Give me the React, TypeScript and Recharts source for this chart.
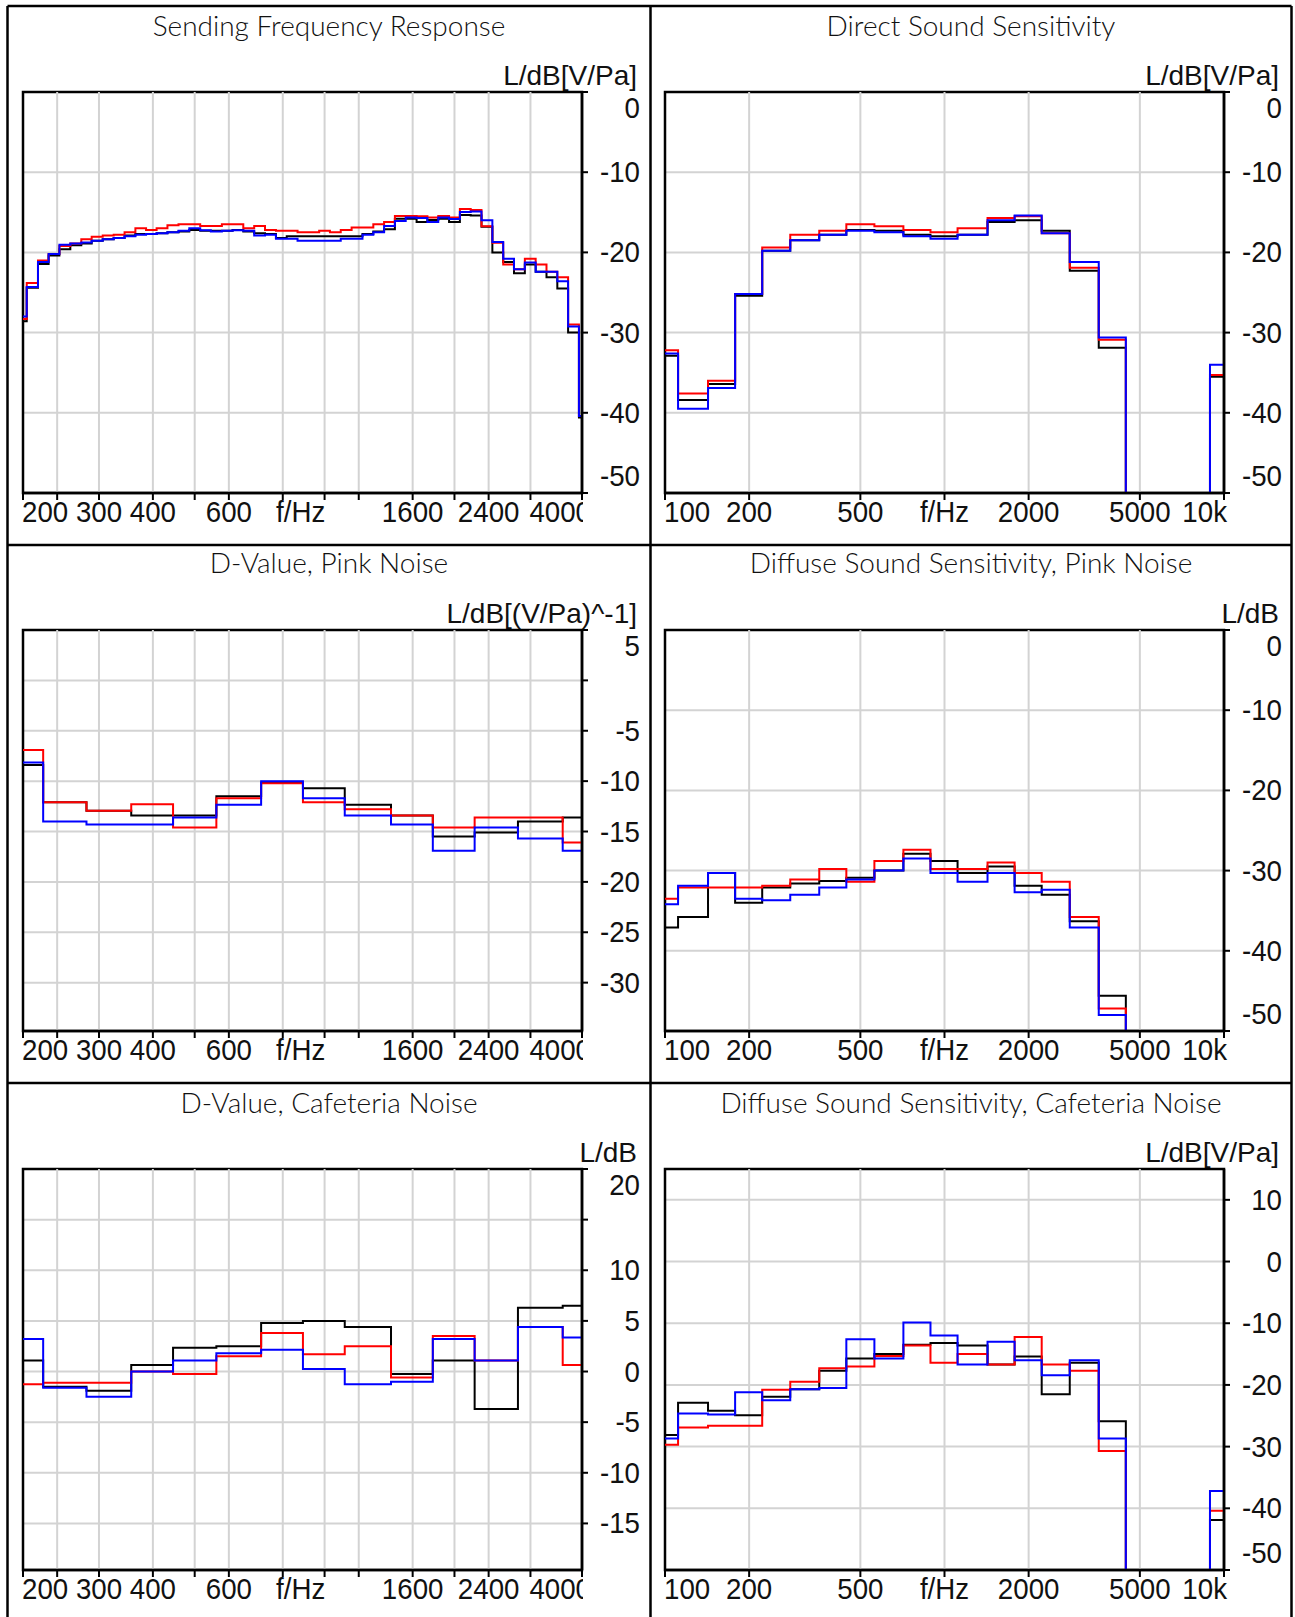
import React from 'react'
import {
  CartesianGrid,
  Line,
  LineChart,
  ReferenceArea,
  ReferenceLine,
  XAxis,
  YAxis,
} from 'recharts'

// band centre frequencies
const twelfthBands = [
  198, 210, 223, 236, 250, 265, 281, 297, 315, 334, 354, 375, 397, 420, 445, 472,
  500, 530, 561, 595, 630, 667, 707, 749, 794, 841, 891, 944, 1000, 1059, 1122, 1189,
  1260, 1335, 1414, 1498, 1587, 1682, 1782, 1888, 2000, 2119, 2245, 2378, 2520, 2670,
  2828, 2997, 3175, 3364, 3564, 3775, 4000,
]
const lowThirds = [200, 250, 315, 400, 500, 630, 800, 1000, 1250, 1600, 2000, 2500, 3150, 4000]
const wideThirds = [
  100, 125, 160, 200, 250, 315, 400, 500, 630, 800, 1000, 1250, 1600, 2000, 2500, 3150,
  4000, 5000, 6300, 8000, 10000,
]

// Sending Frequency Response (1/12 octave)
const sfrBlack = [
  -28.6, -24.4, -21.45, -20.4, -19.6, -19.1, -18.9, -18.55, -18.35, -18.2, -17.9, -17.7, -17.7,
  -17.6, -17.5, -17.4, -17.2, -17.3, -17.3, -17.3, -17.2, -17.4, -17.6, -17.7, -18.2, -18.0,
  -18.0, -18.0, -18.0, -18.0, -18.0, -18.0, -17.7, -17.4, -17.1, -15.8, -15.8, -16.2, -15.95,
  -15.8, -16.2, -15.35, -15.4, -16.8, -20.0, -21.2, -22.6, -21.5, -22.4, -23.1, -24.5, -30.0,
  -40.6,
]
const sfrRed = [
  -28.3, -23.8, -21.0, -20.2, -19.2, -18.9, -18.35, -18.05, -17.9, -17.8, -17.5, -17.0, -17.2,
  -17.0, -16.6, -16.5, -16.5, -16.7, -16.7, -16.5, -16.5, -17.0, -16.7, -17.2, -17.3, -17.3,
  -17.5, -17.5, -17.3, -17.5, -17.2, -16.9, -16.9, -16.5, -16.2, -15.45, -15.45, -15.5, -15.65,
  -15.45, -15.65, -14.6, -14.7, -16.75, -18.8, -21.5, -22.1, -20.8, -21.5, -22.4, -23.1, -29.0,
  -40.4,
]
const sfrBlue = [
  -28.0, -24.3, -21.2, -20.2, -19.05, -18.9, -18.75, -18.55, -18.35, -18.2, -18.0, -17.8, -17.7,
  -17.6, -17.5, -17.3, -17.0, -17.25, -17.4, -17.3, -17.25, -17.3, -17.9, -17.8, -18.3, -18.3,
  -18.55, -18.55, -18.55, -18.55, -18.3, -18.3, -17.8, -17.5, -16.7, -16.1, -15.65, -15.7, -16.2,
  -15.65, -15.85, -14.95, -14.9, -16.0, -18.7, -20.8, -22.1, -21.25, -22.4, -22.4, -23.6, -29.25,
  -40.4,
]

// Direct Sound Sensitivity (-60 = below the plotted range)
const dssBlack = [-32.9, -38.4, -36.4, -25.4, -19.8, -18.5, -17.8, -17.2, -17.3, -17.8, -18.0, -17.8, -16.2, -16.0, -17.3, -22.3, -31.9, -60, -60, -60, -35.5]
const dssRed = [-32.2, -37.6, -36.0, -25.2, -19.4, -17.8, -17.3, -16.5, -16.75, -17.2, -17.5, -17.0, -15.7, -15.5, -17.6, -21.9, -30.9, -60, -60, -60, -35.3]
const dssBlue = [-32.6, -39.5, -36.9, -25.2, -19.8, -18.5, -17.8, -17.3, -17.5, -18.0, -18.3, -17.8, -16.0, -15.4, -17.6, -21.2, -30.6, -60, -60, -60, -34.0]

// D-Value, Pink Noise
const dpBlack = [-8.4, -12.1, -12.95, -13.4, -13.4, -11.5, -10.15, -10.7, -12.35, -13.4, -15.5, -15.1, -14.0, -13.6]
const dpRed = [-6.9, -12.1, -12.95, -12.3, -14.6, -11.7, -10.2, -12.1, -12.8, -13.4, -14.6, -13.6, -13.6, -16.1]
const dpBlue = [-8.15, -14.0, -14.3, -14.3, -13.6, -12.35, -10.0, -11.7, -13.4, -14.3, -16.9, -14.6, -15.7, -16.9]

// Diffuse Sound Sensitivity, Pink Noise
const dspBlack = [-37.1, -35.8, -30.3, -34.0, -32.1, -31.6, -31.3, -30.9, -30.0, -27.9, -28.8, -30.3, -29.5, -31.9, -33.0, -36.3, -45.6, -60, -60, -60, -60]
const dspRed = [-33.5, -32.1, -32.1, -32.1, -31.9, -31.1, -29.8, -31.4, -28.8, -27.4, -29.8, -29.8, -29.0, -30.3, -31.4, -35.8, -47.2, -60, -60, -60, -60]
const dspBlue = [-34.2, -31.9, -30.3, -33.5, -33.7, -33.0, -32.1, -31.1, -30.0, -28.5, -30.3, -31.4, -30.3, -32.7, -32.4, -37.1, -48.0, -60, -60, -60, -60]

// D-Value, Cafeteria Noise
const dcBlack = [1.1, -1.5, -1.9, 0.65, 2.35, 2.5, 4.8, 5.0, 4.4, -0.25, 1.1, -3.7, 6.3, 6.5]
const dcRed = [-1.25, -1.1, -1.1, 0, -0.25, 1.5, 3.8, 1.7, 2.5, -0.6, 3.5, 1.1, 4.4, 0.65]
const dcBlue = [3.2, -1.6, -2.5, 0, 1.1, 1.8, 2.15, 0.25, -1.25, -1.0, 3.2, 1.1, 4.4, 3.35]

// Diffuse Sound Sensitivity, Cafeteria Noise
const dscBlack = [-28.1, -22.9, -24.2, -24.9, -21.9, -20.7, -17.7, -15.7, -15.0, -13.5, -13.2, -13.6, -16.7, -15.4, -21.5, -16.4, -25.9, -60, -60, -60, -41.9]
const dscRed = [-29.7, -26.9, -26.6, -26.6, -20.8, -19.5, -17.3, -17.0, -15.3, -13.6, -16.4, -15.0, -16.7, -12.25, -16.7, -17.7, -30.7, -60, -60, -60, -40.4]
const dscBlue = [-28.7, -24.65, -24.8, -21.2, -22.5, -20.7, -20.5, -12.6, -15.7, -9.9, -12.0, -16.7, -13.0, -16.0, -18.45, -16.0, -28.7, -60, -60, -60, -37.2]

// axes
const leftDomain = [200, 3950]
const rightDomain = [100, 10000]
const leftGrid = [240, 300, 400, 500, 600, 800, 1000, 1200, 1600, 2000, 2400, 3000]
const rightGrid = [200, 500, 1000, 2000, 5000]
const leftXTicks = [200, 240, 300, 400, 500, 600, 800, 880, 1000, 1200, 1600, 2000, 2400, 3000, 3950]
const leftXLabels: Record<number, string> = { 200: '200', 300: '300', 400: '400', 600: '600', 880: 'f/Hz', 1600: '1600', 2400: '2400', 3950: '4000' }
const rightXTicks = [100, 200, 500, 1000, 2000, 5000, 10000]
const rightXLabels: Record<number, string> = { 100: '100', 200: '200', 500: '500', 1000: 'f/Hz', 2000: '2000', 5000: '5000', 10000: '10k' }

const TICK_FONT = '"Liberation Sans", Arial, sans-serif'
const TICK_SIZE = 29
const SQUEEZE = 0.955
const GRID = '#d3d3d3'

// plot geometry inside each chart
const ML = 12
const MT = 12
const PW = 559
const PH = 401
const YW = 70
const XH = 42
const RIGHT = ML + PW
const BOTTOM = MT + PH

function stepRows(bands: number[], ratio: number, domain: number[], black: number[], red: number[], blue: number[]) {
  const rows = bands.map((c, i) => ({
    f: Math.max(domain[0], c / ratio),
    black: black[i],
    red: red[i],
    blue: blue[i],
  }))
  const n = bands.length - 1
  rows.push({ f: domain[1], black: black[n], red: red[n], blue: blue[n] })
  return rows
}

const third = Math.pow(2, 1 / 6)
const twelfth = Math.pow(2, 1 / 24)

const panels = [
  {
    title: 'Sending Frequency Response', unit: 'L/dB[V/Pa]', col: 0, row: 0, side: 'left',
    rows: stepRows(twelfthBands, twelfth, leftDomain, sfrBlack, sfrRed, sfrBlue),
    yDomain: [-50, 0], yTicks: [0, -10, -20, -30, -40, -50], yLabels: [0, -10, -20, -30, -40, -50],
  },
  {
    title: 'Direct Sound Sensitivity', unit: 'L/dB[V/Pa]', col: 1, row: 0, side: 'right',
    rows: stepRows(wideThirds, third, rightDomain, dssBlack, dssRed, dssBlue),
    yDomain: [-50, 0], yTicks: [0, -10, -20, -30, -40, -50], yLabels: [0, -10, -20, -30, -40, -50],
  },
  {
    title: 'D-Value, Pink Noise', unit: 'L/dB[(V/Pa)^-1]', col: 0, row: 1, side: 'left',
    rows: stepRows(lowThirds, third, leftDomain, dpBlack, dpRed, dpBlue),
    yDomain: [-34.8, 5], yTicks: [5, 0, -5, -10, -15, -20, -25, -30], yLabels: [5, -5, -10, -15, -20, -25, -30],
  },
  {
    title: 'Diffuse Sound Sensitivity, Pink Noise', unit: 'L/dB', col: 1, row: 1, side: 'right',
    rows: stepRows(wideThirds, third, rightDomain, dspBlack, dspRed, dspBlue),
    yDomain: [-50, 0], yTicks: [0, -10, -20, -30, -40, -50], yLabels: [0, -10, -20, -30, -40, -50],
  },
  {
    title: 'D-Value, Cafeteria Noise', unit: 'L/dB', col: 0, row: 2, side: 'left',
    rows: stepRows(lowThirds, third, leftDomain, dcBlack, dcRed, dcBlue),
    yDomain: [-19.6, 20], yTicks: [20, 15, 10, 5, 0, -5, -10, -15], yLabels: [20, 10, 5, 0, -5, -10, -15],
  },
  {
    title: 'Diffuse Sound Sensitivity, Cafeteria Noise', unit: 'L/dB[V/Pa]', col: 1, row: 2, side: 'right',
    rows: stepRows(wideThirds, third, rightDomain, dscBlack, dscRed, dscBlue),
    yDomain: [-50, 15], yTicks: [10, 0, -10, -20, -30, -40, -50], yLabels: [10, 0, -10, -20, -30, -40, -50],
  },
]

const plotLefts = [23, 665]
const plotTops = [92, 630, 1169]
const titleX = [329, 971]
const titleY = [35.5, 573, 1112.5]

// slightly condensed Arial-style tick text
function NarrowText({ x, y, anchor, children }: any) {
  return (
    <text
      transform={`translate(${x},${y}) scale(${SQUEEZE},1)`}
      textAnchor={anchor}
      fontFamily={TICK_FONT}
      fontSize={TICK_SIZE}
      fill="#111"
    >
      {children}
    </text>
  )
}

function XTick(props: any) {
  const { x, payload, side } = props
  const v = payload.value
  const labels = side === 'left' ? leftXLabels : rightXLabels
  const label = labels[v]
  const isF = label === 'f/Hz' && side === 'left'
  const first = v === (side === 'left' ? 200 : 100)
  const last = v === (side === 'left' ? 3950 : 10000)
  let anchor = 'middle'
  let tx = x
  if (first) {
    anchor = 'start'
    tx = x - 1
  } else if (last) {
    anchor = 'end'
    tx = side === 'left' ? x + 9 : x + 3
  }
  return (
    <g>
      {!isF && <line x1={x} x2={x} y1={BOTTOM} y2={BOTTOM + 7} stroke="#000" strokeWidth={2} />}
      {label && (
        <svg x={0} y={0} width={RIGHT + (side === 'left' ? 1 : 8)} height={MT + PH + XH} overflow="hidden">
          <NarrowText x={tx} y={BOTTOM + 29} anchor={anchor}>
            {label}
          </NarrowText>
        </svg>
      )}
    </g>
  )
}

function YTick(props: any) {
  const { y, payload, labels } = props
  const v = payload.value
  const cy = Math.min(Math.max(y, MT + 16), BOTTOM - 17)
  return (
    <g>
      <line x1={RIGHT} x2={RIGHT + 6} y1={y} y2={y} stroke="#000" strokeWidth={2} />
      {labels.includes(v) && (
        <NarrowText x={RIGHT + 58} y={cy + 10} anchor="end">
          {v}
        </NarrowText>
      )}
    </g>
  )
}

function Panel({ p }: { p: any }) {
  const left = p.side === 'left'
  const domain = left ? leftDomain : rightDomain
  const grid = left ? leftGrid : rightGrid
  return (
    <div
      style={{
        position: 'absolute',
        left: plotLefts[p.col] - ML,
        top: plotTops[p.row] - MT,
      }}
    >
      <LineChart
        width={ML + PW + YW}
        height={MT + PH + XH}
        data={p.rows}
        margin={{ top: MT, right: 0, bottom: 0, left: ML }}
      >
        <CartesianGrid vertical={false} stroke={GRID} strokeWidth={2} />
        {grid.map((g) => (
          <ReferenceLine key={g} x={g} stroke={GRID} strokeWidth={2} />
        ))}
        <XAxis
          dataKey="f"
          type="number"
          scale="log"
          domain={domain}
          allowDataOverflow
          ticks={left ? leftXTicks : rightXTicks}
          interval={0}
          tickLine={false}
          axisLine={{ stroke: '#000', strokeWidth: 2.5 }}
          height={XH}
          tick={(t: any) => <XTick {...t} side={p.side} />}
        />
        <YAxis
          orientation="right"
          type="number"
          domain={p.yDomain}
          allowDataOverflow
          ticks={p.yTicks}
          interval={0}
          tickLine={false}
          axisLine={{ stroke: '#000', strokeWidth: 2.5 }}
          width={YW}
          tick={(t: any) => <YTick {...t} labels={p.yLabels} />}
        />
        <ReferenceArea
          x1={domain[0]}
          x2={domain[1]}
          y1={p.yDomain[0]}
          y2={p.yDomain[1]}
          fill="none"
          fillOpacity={0}
          stroke="#000"
          strokeWidth={2.5}
        />
        <Line dataKey="black" type="stepAfter" stroke="#000000" strokeWidth={2} dot={false} activeDot={false} isAnimationActive={false} />
        <Line dataKey="red" type="stepAfter" stroke="#ff0000" strokeWidth={2} dot={false} activeDot={false} isAnimationActive={false} />
        <Line dataKey="blue" type="stepAfter" stroke="#0000ff" strokeWidth={2} dot={false} activeDot={false} isAnimationActive={false} />
      </LineChart>
    </div>
  )
}

export default function App() {
  return (
    <div style={{ position: 'absolute', left: 0, top: 0, width: 1295, height: 1617, background: '#fff' }}>
      <svg width={1295} height={1617} style={{ position: 'absolute', left: 0, top: 0 }}>
        <g stroke="#000" strokeWidth={2.5}>
          <line x1={7.5} x2={7.5} y1={6} y2={1617} />
          <line x1={1291.5} x2={1291.5} y1={6} y2={1617} />
          <line x1={650.5} x2={650.5} y1={6} y2={1617} />
          <line x1={7.5} x2={1291.5} y1={6} y2={6} />
          <line x1={7.5} x2={1291.5} y1={545} y2={545} />
          <line x1={7.5} x2={1291.5} y1={1083} y2={1083} />
        </g>
        {panels.map((p) => (
          <g key={p.title}>
            <text
              x={titleX[p.col]}
              y={titleY[p.row]}
              textAnchor="middle"
              fontFamily='Lato, "Open Sans", sans-serif'
              fontWeight={300}
              fontSize={28}
              fill="#111"
            >
              {p.title}
            </text>
            <text
              x={plotLefts[p.col] + PW + 55}
              y={plotTops[p.row] - 7}
              textAnchor="end"
              fontFamily='"Liberation Sans", Arial, sans-serif'
              fontSize={28}
              fill="#111"
            >
              {p.unit}
            </text>
          </g>
        ))}
      </svg>
      {panels.map((p) => (
        <Panel key={p.title} p={p} />
      ))}
    </div>
  )
}
